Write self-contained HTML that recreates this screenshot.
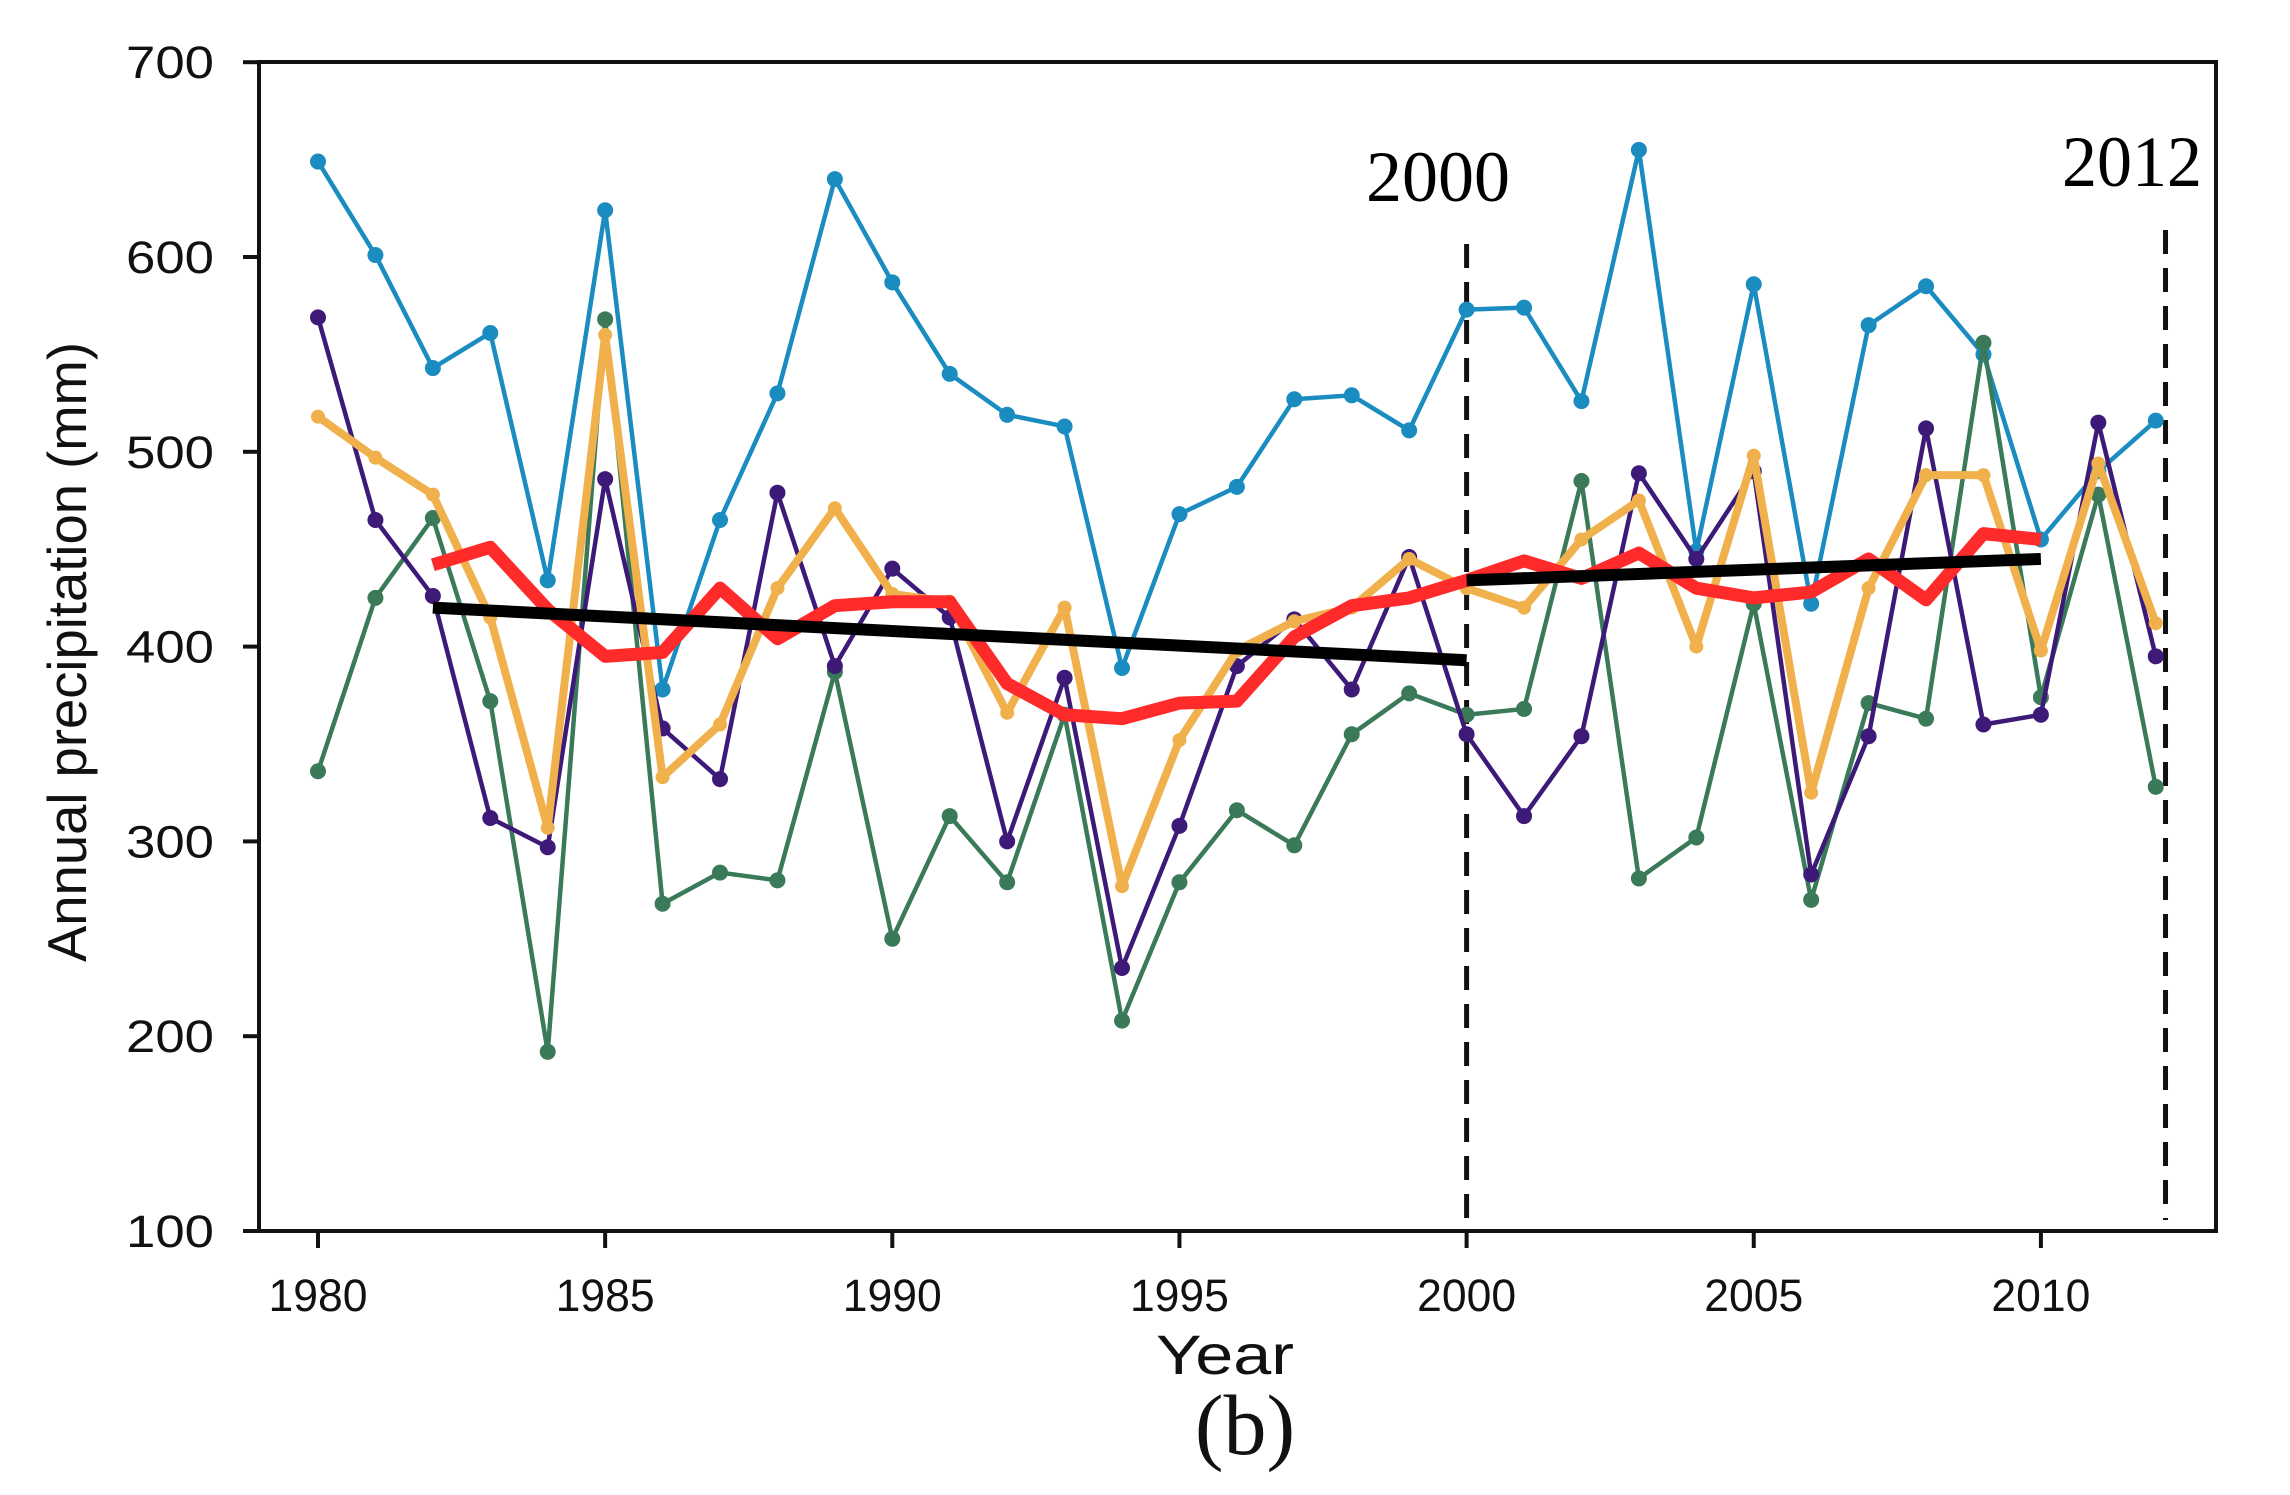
<!DOCTYPE html>
<html><head><meta charset="utf-8"><style>
html,body{margin:0;padding:0;background:#fff;}
svg{display:block;}
</style></head><body>
<svg id="chart" width="2290" height="1495" viewBox="0 0 2290 1495" xmlns="http://www.w3.org/2000/svg">
<g id="plot"></g>
</svg>
<script>
const years = [1980,1981,1982,1983,1984,1985,1986,1987,1988,1989,1990,1991,1992,1993,1994,1995,1996,1997,1998,1999,2000,2001,2002,2003,2004,2005,2006,2007,2008,2009,2010,2011,2012];
const blueSeries = [649,601,543,561,434,624,378,465,530,640,587,540,519,513,389,468,482,527,529,511,573,574,526,655,449,586,422,565,585,550,455,490,516];
const purpleSeries = [569,465,426,312,297,486,358,332,479,390,440,415,300,384,235,308,390,414,378,446,355,313,354,489,445,490,283,354,512,360,365,515,395];
const greenSeries = [336,425,466,372,192,568,268,284,280,387,250,313,279,365,208,279,316,298,355,376,365,368,485,281,302,422,270,371,363,556,374,478,328];
const orangeSeries = [518,497,478,415,307,560,333,360,430,471,427,423,366,420,277,352,398,413,420,445,430,420,455,475,400,498,325,430,488,488,398,494,412];
const avgYears = [1982,1983,1984,1985,1986,1987,1988,1989,1990,1991,1992,1993,1994,1995,1996,1997,1998,1999,2000,2001,2002,2003,2004,2005,2006,2007,2008,2009,2010];
const avgSeries = [442,451,419,395,397,430,404,421,423,423,381,365,363,371,372,405,421,425,434,444,435,448,430,425,428,445,424,458,455];
const trend1 = [[1982,420],[2000,393]];
const trend2 = [[2000,434],[2010,445]];
const yTicks = [100,200,300,400,500,600,700];
const xTicks = [1980,1985,1990,1995,2000,2005,2010];
const markerYears = [2000,2012.17];

const NS='http://www.w3.org/2000/svg';
const g=document.getElementById('plot');
function X(yr){return 318+57.43*(yr-1980);}
function Y(v){return 1231-(v-100)*1.948;}
function mk(tag,attrs,parent){const e=document.createElementNS(NS,tag);for(const k in attrs)e.setAttribute(k,attrs[k]);(parent||g).appendChild(e);return e;}

let fr=mk('rect',{x:259,y:62,width:1957,height:1169,fill:'none',stroke:'#111','stroke-width':4});



yTicks.forEach(v=>{
  let t=mk('line',{x1:243,x2:259,y1:Y(v),y2:Y(v),stroke:'#111','stroke-width':4});
  
  
  let l=mk('text',{x:214,y:Y(v)+16,'text-anchor':'end','font-family':'Liberation Sans, sans-serif','font-size':45,fill:'#111',textLength:88,lengthAdjust:'spacingAndGlyphs'});
  l.textContent=v;
  
  
});
xTicks.forEach(v=>{
  let t=mk('line',{x1:X(v),x2:X(v),y1:1231,y2:1248,stroke:'#111','stroke-width':4});
  
  
  let l=mk('text',{x:X(v),y:1311,'text-anchor':'middle','font-family':'Liberation Sans, sans-serif','font-size':45,fill:'#111',textLength:99,lengthAdjust:'spacingAndGlyphs'});
  l.textContent=v;
  
  
});

markerYears.forEach((yr,i)=>{
  let d=mk('line',{x1:X(yr),x2:X(yr),y1:i==0?244:230,y2:i==0?1231:1220,stroke:'#111','stroke-width':5,'stroke-dasharray':'24 14'});
  
  
});

function series(xs,vals,color,w,r,name){
  const pts=xs.map((x,i)=>X(x)+','+Y(vals[i])).join(' ');
  let p=mk('polyline',{points:pts,fill:'none',stroke:color,'stroke-width':w,'stroke-linejoin':'round'});
  
  
  if(r>0) xs.forEach((x,i)=>{
    let c=mk('circle',{cx:X(x),cy:Y(vals[i]),r:r,fill:color});
    
    
  });
}
series(years,blueSeries,'#1a8cc0',4.5,8,'blue-series');
series(years,greenSeries,'#3a7a58',4.5,8,'green-series');
series(years,purpleSeries,'#3d1a78',4.5,8,'purple-series');
series(years,orangeSeries,'#f0b04c',8,7,'orange-series');
series(avgYears,avgSeries,'#ff2a2a',13,0,'moving-average');
series(trend1.map(d=>d[0]),trend1.map(d=>d[1]),'#000',12,0,'trend-1982-2000');
series(trend2.map(d=>d[0]),trend2.map(d=>d[1]),'#000',12,0,'trend-2000-2010');

function txt(s,attrs,name){let t=mk('text',attrs);t.textContent=s;return t;}
txt('2000',{x:1438,y:201,'text-anchor':'middle','font-family':'Liberation Serif, serif','font-size':72,fill:'#000',textLength:144,lengthAdjust:'spacingAndGlyphs'},'label-2000');
txt('2012',{x:2132,y:186,'text-anchor':'middle','font-family':'Liberation Serif, serif','font-size':72,fill:'#000',textLength:140,lengthAdjust:'spacingAndGlyphs'},'label-2012');
txt('Year',{x:1225,y:1374,'text-anchor':'middle','font-family':'Liberation Sans, sans-serif','font-size':56,fill:'#111',textLength:138,lengthAdjust:'spacingAndGlyphs'},'x-axis-title');
txt('(b)',{x:1245,y:1454,'text-anchor':'middle','font-family':'Liberation Serif, serif','font-size':86,fill:'#111'},'panel-label');
txt('Annual precipitation (mm)',{x:0,y:0,'text-anchor':'middle','font-family':'Liberation Sans, sans-serif','font-size':55,fill:'#111',textLength:620,lengthAdjust:'spacingAndGlyphs',transform:'translate(86,652) rotate(-90)'},'y-axis-title');
</script>
</body></html>
